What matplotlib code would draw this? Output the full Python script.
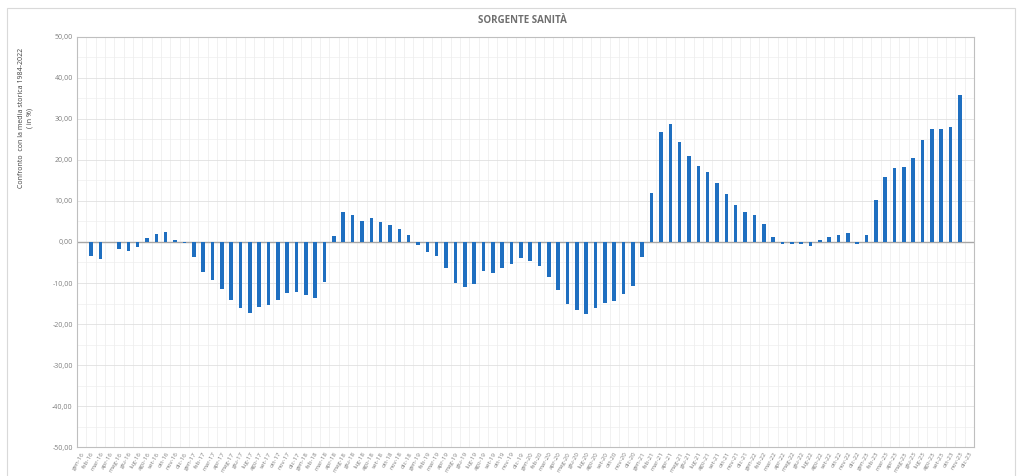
import numpy as np
import matplotlib.pyplot as plt
from matplotlib.patches import Rectangle

plt.rcParams['font.family'] = ['Open Sans', 'DejaVu Sans']

# Categorie: mesi da gen-16 a dic-23
mesi = ['gen', 'feb', 'mar', 'apr', 'mag', 'giu', 'lug', 'ago', 'set', 'ott', 'nov', 'dic']
anni = ['16', '17', '18', '19', '20', '21', '22', '23']
etichette = [f'{m}-{a}' for a in anni for m in mesi]

# Scostamento dalla media storica 1984-2022 (in %)
valori = [
    np.nan, -3.3, -4.1, 0.0, -1.8, -2.2, -1.3, 1.0, 1.9, 2.5, 0.6, -0.2,
    -3.7, -7.2, -9.2, -11.4, -14.2, -16.0, -17.3, -15.9, -15.4, -14.2, -12.5, -12.2,
    -13.0, -13.6, -9.7, 1.5, 7.3, 6.7, 5.1, 5.8, 4.8, 4.2, 3.2, 1.7,
    -0.8, -2.5, -3.3, -6.3, -9.9, -11.0, -10.3, -7.1, -7.6, -6.3, -5.3, -3.8,
    -4.6, -5.9, -8.5, -11.6, -15.0, -16.6, -17.6, -16.2, -14.8, -14.5, -12.7, -10.8,
    -3.7, 12.0, 26.9, 28.9, 24.5, 21.0, 18.5, 17.0, 14.3, 11.6, 9.1, 7.3,
    6.7, 4.3, 1.1, -0.6, -0.6, -0.6, -1.0, 0.5, 1.1, 1.7, 2.2, -0.6,
    1.7, 10.2, 15.9, 18.0, 18.2, 20.4, 24.9, 27.5, 27.6, 28.0, 35.9, np.nan,
]

fig = plt.figure(figsize=(10.22, 4.76), dpi=100)
ax = fig.add_axes([0.0753, 0.0609, 0.8777, 0.8614])

x = np.arange(len(etichette))
ax.bar(x, valori, width=0.38, color='#1f6fc0', zorder=3)

ax.set_xlim(-0.5, len(x) - 0.5)
ax.set_ylim(-50, 50)

yt = np.arange(-50, 51, 10)
ax.set_yticks(yt)
ax.set_yticklabels([f'{v:.2f}'.replace('.', ',') for v in yt], fontsize=5, color='#7f7f7f')
ax.set_yticks(np.arange(-45, 50, 10), minor=True)

ax.set_xticks(x)
ax.set_xticklabels(etichette, rotation=60, ha='right', rotation_mode='anchor',
                   fontsize=4.5, color='#7f7f7f')
ax.set_xticks(np.arange(-0.5, len(x), 1), minor=True)

ax.grid(which='major', axis='y', color='#e0e0e0', linewidth=0.6, zorder=0)
ax.grid(which='minor', axis='y', color='#eeeeee', linewidth=0.5, zorder=0)
ax.grid(which='minor', axis='x', color='#ebebeb', linewidth=0.5, zorder=0)
ax.axhline(0, color='#a6a6a6', linewidth=1, zorder=2)

ax.tick_params(which='both', length=0, pad=3)
for s in ax.spines.values():
    s.set_color('#bfbfbf')
    s.set_linewidth(0.8)

fig.text(0.511, 0.957, 'SORGENTE SANITÀ', ha='center', va='center',
         fontsize=7, color='#6f6f6f', fontweight='bold')
fig.text(0.025, 0.752, 'Confronto  con la media storica 1984-2022\n( in %)',
         rotation=90, ha='center', va='center', fontsize=5, color='#404040',
         multialignment='center')

# cornice dell'area grafico
fig.add_artist(Rectangle((7 / 1022, -0.1), (1015 - 7) / 1022, 1.083,
                         transform=fig.transFigure, fill=False,
                         edgecolor='#d9d9d9', linewidth=0.8))

fig.savefig('out.png', dpi=100)
